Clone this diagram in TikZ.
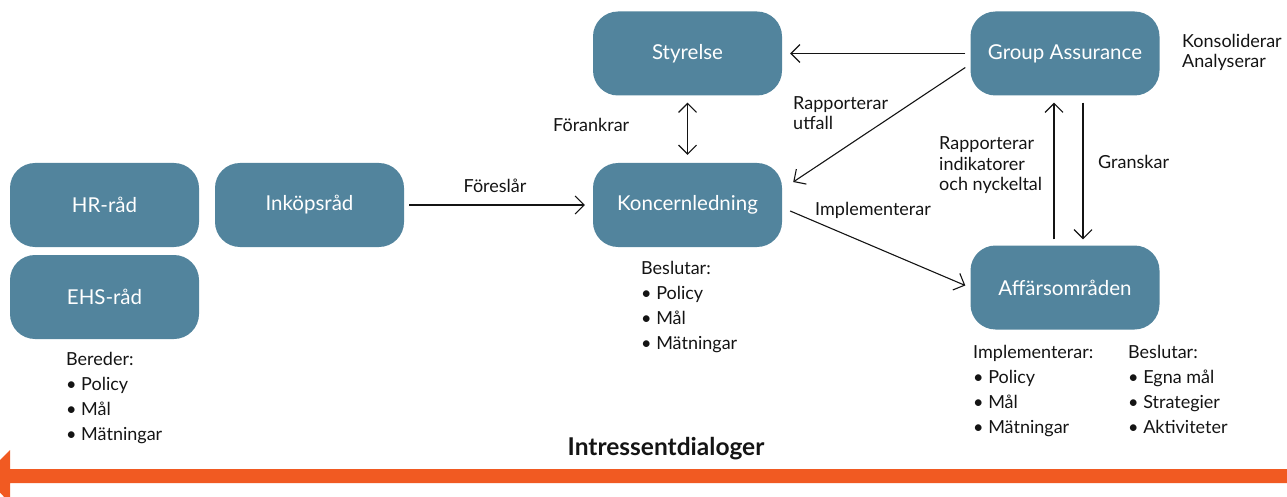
\documentclass[tikz,border=0pt]{standalone}
\usepackage{fontspec}
\setmainfont{Lato}
\usetikzlibrary{arrows.meta}
\definecolor{boxblue}{HTML}{52849D}
\definecolor{arrorange}{HTML}{F15A22}
\definecolor{ink}{HTML}{141414}
\begin{document}
\begin{tikzpicture}[x=1pt,y=-1pt,
  box/.style={rounded corners=25pt, fill=boxblue, text=white, minimum width=189pt, minimum height=84pt, inner sep=0pt, font=\fontsize{20.5}{24}\selectfont},
  lbl/.style={text=ink, font=\fontsize{18}{20.5}\selectfont, inner sep=0pt, align=left},
  lst/.style={text=ink, font=\fontsize{18}{25}\selectfont, inner sep=0pt, align=left, anchor=base west},
  conn/.style={draw=ink, line width=1.1pt, -{Straight Barb[length=9pt,width=18pt,line width=1.1pt]}}]
\useasboundingbox (0,0) rectangle (1287,497);
% orange band arrow
\fill[arrorange] (1290,469) -- (10,469) -- (10,450) -- (-16,476) -- (10,503) -- (10,483) -- (1290,483) -- cycle;
% boxes
\node[box] (hr)  at (104.5,205)   {HR-råd};
\node[box] (ehs) at (104.5,297)   {EHS-råd};
\node[box] (ink) at (309.5,205)   {Inköpsråd};
\node[box] (sty) at (687.5,53.5)  {Styrelse};
\node[box] (kon) at (687.5,205)   {Koncernledning};
\node[box] (ga)  at (1065,53.5)   {Group Assurance};
\node[box] (aff) at (1065,287.5)  {Affärsområden};
% connectors
\draw[conn] ([xshift=5pt]ink.east) -- ([xshift=-8pt]kon.west);
\draw[conn, {Straight Barb[length=9pt,width=18pt,line width=1.1pt]}-{Straight Barb[length=9pt,width=18pt,line width=1.1pt]}] ([yshift=-7pt]sty.south) -- ([yshift=8pt]kon.north);
\draw[conn] ([xshift=-5pt]ga.west) -- ([xshift=8pt]sty.east);
\draw[conn] ([xshift=-5pt,yshift=-14pt]ga.west) -- ([xshift=11pt,yshift=23pt]kon.east);
\draw[conn] ([xshift=8pt,yshift=-6pt]kon.east) -- ([xshift=-5pt,yshift=2pt]aff.west);
\draw[conn] ([xshift=-11pt,yshift=6pt]aff.north) -- ([xshift=-11pt,yshift=-7pt]ga.south);
\draw[conn] ([xshift=18pt,yshift=-7pt]ga.south) -- ([xshift=18pt,yshift=6pt]aff.north);
% labels (base = baseline of last line)
\node[lbl, anchor=base] (l1) at (495,193) {Föreslår};
\node[lbl, anchor=base west] (l2) at (553,132) {Förankrar};
\node[lbl, anchor=base west] (l3) at (793,130) {Rapporterar\\utfall};
\node[lbl, anchor=base west] (l4) at (815,215) {Implementerar};
\node[lbl, anchor=base west] (l5) at (939,191) {Rapporterar\\indikatorer\\och nyckeltal};
\node[lbl, anchor=base west] (l6) at (1098,169) {Granskar};
\node[lbl, anchor=base west] (l7) at (1182,68) {Konsoliderar\\Analyserar};
% lists
\node[lst] (b1) at (66,440) {Bereder:\\• Policy\\• Mål\\• Mätningar};
\node[lst] (b2) at (641,349) {Beslutar:\\• Policy\\• Mål\\• Mätningar};
\node[lst] (b3) at (973,433) {Implementerar:\\• Policy\\• Mål\\• Mätningar};
\node[lst] (b4) at (1128,433) {Beslutar:\\• Egna mål\\• Strategier\\• Aktiviteter};
\node[text=ink, font=\fontsize{24.5}{27}\selectfont\bfseries, anchor=base, inner sep=0pt] (title) at (666,455) {Intressentdialoger};
\end{tikzpicture}
\end{document}
